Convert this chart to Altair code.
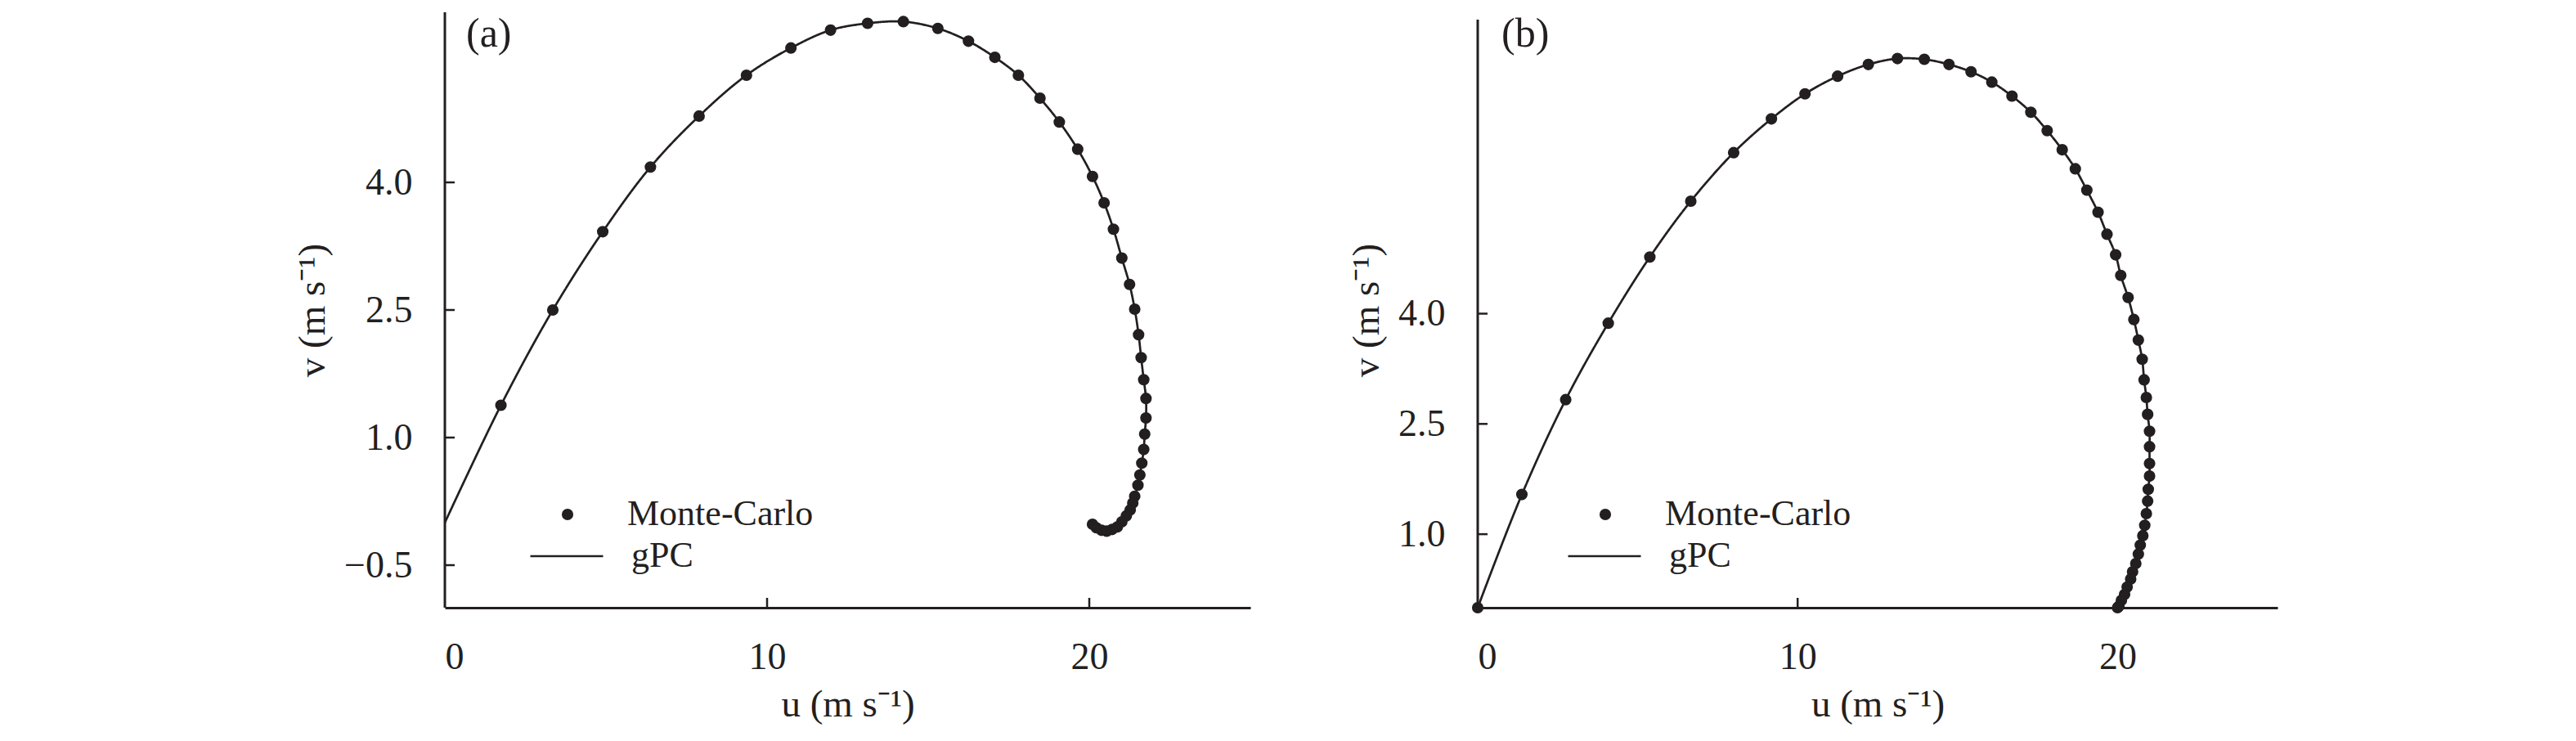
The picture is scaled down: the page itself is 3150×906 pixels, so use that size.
import altair as alt
import pandas as pd

# ---------------- data ----------------
# panel (a): Monte-Carlo samples (u, v)
ua = [1.74, 3.35, 4.90, 6.38, 7.89, 9.36, 10.74, 11.97, 13.12, 14.23,
      15.30, 16.25, 17.07, 17.80, 18.47, 19.07, 19.64, 20.10, 20.46, 20.75,
      21.01, 21.25, 21.41, 21.53, 21.61, 21.69, 21.76, 21.76, 21.72, 21.69,
      21.63, 21.57, 21.51, 21.41, 21.35, 21.27, 21.15, 21.01, 20.87, 20.71,
      20.54, 20.38, 20.22, 20.10]
va = [1.38, 2.50, 3.42, 4.18, 4.78, 5.26, 5.58, 5.79, 5.87, 5.89,
      5.81, 5.66, 5.47, 5.26, 4.99, 4.71, 4.39, 4.07, 3.76, 3.45,
      3.11, 2.80, 2.51, 2.21, 1.94, 1.68, 1.46, 1.23, 1.04, 0.86,
      0.70, 0.56, 0.44, 0.31, 0.23, 0.15, 0.08, 0.01, -0.05, -0.08,
      -0.10, -0.09, -0.06, -0.02]
# panel (a): gPC curve starts at the origin
ga_u = [0.0] + ua
ga_v = [0.0] + va

# panel (b): Monte-Carlo samples (u, v)
ub = [0.0, 1.38, 2.75, 4.08, 5.38, 6.66, 8.00, 9.18, 10.23, 11.25,
      12.21, 13.12, 13.96, 14.73, 15.42, 16.07, 16.70, 17.29, 17.80, 18.27,
      18.68, 19.04, 19.39, 19.67, 19.94, 20.10, 20.33, 20.51, 20.65, 20.77,
      20.83, 20.90, 20.94, 21.00, 21.00, 21.00, 21.00, 20.96, 20.94, 20.90,
      20.85, 20.79, 20.71, 20.65, 20.57, 20.47, 20.41, 20.30, 20.22, 20.12,
      20.04, 20.00]
vb = [0.0, 1.54, 2.83, 3.87, 4.77, 5.53, 6.19, 6.65, 6.99, 7.23,
      7.39, 7.47, 7.46, 7.39, 7.29, 7.15, 6.96, 6.74, 6.49, 6.23,
      5.97, 5.68, 5.38, 5.08, 4.80, 4.52, 4.22, 3.92, 3.64, 3.38,
      3.10, 2.86, 2.63, 2.40, 2.19, 1.96, 1.79, 1.61, 1.45, 1.28,
      1.12, 0.98, 0.85, 0.73, 0.60, 0.49, 0.39, 0.28, 0.18, 0.10,
      0.02, 0.00]
gb_u = list(ub)
gb_v = list(vb)

x_ticks = [0, 10, 20]
ya_ticks = [-0.5, 1.0, 2.5, 4.0]
yb_ticks = [1.0, 2.5, 4.0]
x_domain = [0, 25]
ya_domain = [-1.0, 6.0]
yb_domain = [0.0, 8.1]
ya_top = 6.0
yb_top = 8.0

FONT = "Liberation Serif"
INK = "#231f20"


def panel(mu, mv, lu, lv, width, height, ydom, ytop, yticks, tag, leg_dx):
    pts = pd.DataFrame({"u": mu, "v": mv, "series": ["Monte-Carlo"] * len(mu)})
    ln = pd.DataFrame({"u": lu, "v": lv, "i": list(range(len(lu))),
                       "series": ["gPC"] * len(lu)})
    xs = alt.Scale(domain=x_domain, nice=False, zero=False)
    ys = alt.Scale(domain=ydom, nice=False, zero=False)

    xaxis = alt.Axis(values=x_ticks, format="d", ticks=False, labelPadding=38,
                     grid=False, title="u (m s⁻¹)", titlePadding=12,
                     domainWidth=3, domainColor=INK)
    yaxis = alt.Axis(values=yticks, format=".1f", ticks=False, labelPadding=40,
                     grid=False, title="v (m s⁻¹)", titlePadding=14,
                     domain=False)

    line = alt.Chart(ln).mark_line(color=INK, strokeWidth=2.7,
                                   interpolate="catmull-rom").encode(
        x=alt.X("u:Q", scale=xs, axis=xaxis),
        y=alt.Y("v:Q", scale=ys, axis=yaxis),
        order="i:Q",
        strokeDash=alt.StrokeDash(
            "series:N",
            scale=alt.Scale(domain=["gPC"], range=[[1, 0]]),
            legend=alt.Legend(title=None, orient="none",
                              legendX=103 + leg_dx, legendY=619,
                              symbolType="stroke", symbolSize=7921,
                              symbolStrokeWidth=2.7, symbolStrokeColor=INK,
                              labelOffset=33, labelLimit=0, padding=0),
        ),
    )

    dots = alt.Chart(pts).mark_point(filled=True, color=INK, size=200,
                                     opacity=1).encode(
        x=alt.X("u:Q", scale=xs),
        y=alt.Y("v:Q", scale=ys),
        shape=alt.Shape(
            "series:N",
            scale=alt.Scale(domain=["Monte-Carlo"], range=["circle"]),
            legend=alt.Legend(title=None, orient="none",
                              legendX=128 + leg_dx, legendY=592,
                              symbolSize=200, symbolFillColor=INK,
                              symbolStrokeColor=INK, symbolStrokeWidth=0,
                              symbolOpacity=1,
                              labelOffset=51, labelLimit=0, padding=0),
        ),
    )

    yline = alt.Chart(pd.DataFrame({"y0": [ydom[0]], "y1": [ytop]})).mark_rule(
        color=INK, strokeWidth=3).encode(
        x=alt.value(0), y=alt.Y("y0:Q", scale=ys), y2="y1:Q")

    xt = alt.Chart(pd.DataFrame({"t": x_ticks[1:]})).mark_rule(
        color=INK, strokeWidth=2.5).encode(
        x=alt.X("t:Q", scale=xs), y=alt.value(height), y2=alt.value(height - 12))

    yt = alt.Chart(pd.DataFrame({"t": yticks})).mark_rule(
        color=INK, strokeWidth=2.5).encode(
        y=alt.Y("t:Q", scale=ys), x=alt.value(0), x2=alt.value(12))

    lab = alt.Chart(pd.DataFrame({"t": [tag]})).mark_text(
        font=FONT, fontSize=50, color=INK, align="left", baseline="middle").encode(
        text="t:N", x=alt.value(26 + leg_dx // 2), y=alt.value(27))

    return alt.layer(line, dots, yline, xt, yt, lab).resolve_legend(
        shape="independent", strokeDash="independent").properties(
        width=width, height=height)


pa = panel(ua, va, ga_u, ga_v, 985, 728, ya_domain, ya_top, ya_ticks, "(a)", 0)
pb = panel(ub, vb, gb_u, gb_v, 978, 728, yb_domain, yb_top, yb_ticks, "(b)", 6)

chart = alt.hconcat(pa, pb, spacing=118).resolve_scale(
    shape="independent", strokeDash="independent", x="independent",
    y="independent").resolve_legend(
    shape="independent", strokeDash="independent").properties(
    padding={"left": 350, "top": 5, "right": 5, "bottom": 5}).configure(
    font=FONT).configure_view(stroke=None).configure_axis(
    labelFont=FONT, labelFontSize=46, labelColor=INK,
    titleFont=FONT, titleFontSize=47, titleColor=INK, titleFontWeight="normal",
).configure_legend(labelFont=FONT, labelFontSize=44, labelColor=INK)

chart.save("out.html", embed_options={"renderer": "svg", "actions": False})
